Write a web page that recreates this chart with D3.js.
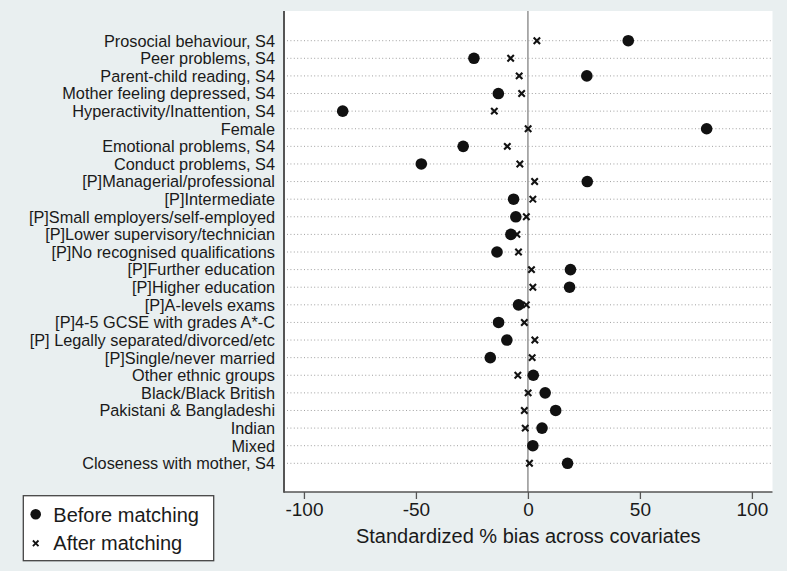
<!DOCTYPE html>
<html>
<head>
<meta charset="utf-8">
<script src="https://cdn.jsdelivr.net/npm/d3@7"></script>
<style>
  html, body { margin: 0; padding: 0; background: #e9eff0; }
  svg { display: block; }
  text { font-family: "Liberation Sans", Arial, sans-serif; fill: #1a1a1a; }
</style>
</head>
<body>
<svg id="chart" width="787" height="571"></svg>
<script>
const categories = [
  "Prosocial behaviour, S4",
  "Peer problems, S4",
  "Parent-child reading, S4",
  "Mother feeling depressed, S4",
  "Hyperactivity/Inattention, S4",
  "Female",
  "Emotional problems, S4",
  "Conduct problems, S4",
  "[P]Managerial/professional",
  "[P]Intermediate",
  "[P]Small employers/self-employed",
  "[P]Lower supervisory/technician",
  "[P]No recognised qualifications",
  "[P]Further education",
  "[P]Higher education",
  "[P]A-levels exams",
  "[P]4-5 GCSE with grades A*-C",
  "[P] Legally separated/divorced/etc",
  "[P]Single/never married",
  "Other ethnic groups",
  "Black/Black British",
  "Pakistani & Bangladeshi",
  "Indian",
  "Mixed",
  "Closeness with mother, S4"
];
const beforeMatching = [44.8, -24.1, 26.3, -13.2, -82.7, 79.8, -28.9, -47.6, 26.5, -6.4,
  -5.4, -7.6, -13.8, 19.0, 18.6, -4.2, -13.1, -9.4, -16.8, 2.4,
  7.7, 12.4, 6.3, 2.2, 17.7];
const afterMatching = [4.0, -7.7, -3.9, -2.8, -15.0, 0.1, -9.2, -3.6, 3.0, 2.2,
  -0.7, -4.9, -4.2, 1.6, 2.2, -0.7, -1.6, 3.1, 1.9, -4.5,
  0.1, -1.6, -1.2, 1.8, 0.7];
const xTicks = [-100, -50, 0, 50, 100];
const xTitle = "Standardized % bias across covariates";
const legendLabels = ["Before matching", "After matching"];

const svg = d3.select("#chart");
const W = 787, H = 571;
svg.append("rect").attr("width", W).attr("height", H).attr("fill", "#e9eff0");

const plot = { left: 284, right: 772.5, top: 11, bottom: 492 };

const x = d3.scaleLinear().domain([-108.9, 109.2]).range([plot.left, plot.right]);
const y = d3.scalePoint().domain(categories).range([40.7, 463.3]);

// plot area
svg.append("rect")
  .attr("x", plot.left).attr("y", plot.top)
  .attr("width", plot.right - plot.left).attr("height", plot.bottom - plot.top)
  .attr("fill", "#ffffff");

// dotted gridlines
svg.append("g").selectAll("line").data(categories).join("line")
  .attr("x1", plot.left + 3).attr("x2", plot.right)
  .attr("y1", d => y(d)).attr("y2", d => y(d))
  .attr("stroke", "#a0a0a0").attr("stroke-width", 1)
  .attr("stroke-dasharray", "1,2.4");

// zero line
svg.append("line")
  .attr("x1", x(0)).attr("x2", x(0))
  .attr("y1", plot.top).attr("y2", plot.bottom)
  .attr("stroke", "#9a9a9a").attr("stroke-width", 1.6);

// y labels
svg.append("g").selectAll("text").data(categories).join("text")
  .attr("x", 275).attr("y", d => y(d))
  .attr("dy", "0.36em")
  .attr("text-anchor", "end")
  .attr("font-size", 16.3)
  .text(d => d);

// x axis
const xAxis = d3.axisBottom(x).tickValues(xTicks).tickSize(7).tickPadding(4).tickFormat(d3.format("d"));
const gx = svg.append("g").attr("transform", `translate(0,${plot.bottom})`).call(xAxis);
gx.select(".domain").remove();
gx.selectAll(".tick line").attr("stroke", "#555").attr("stroke-width", 1.3);
gx.selectAll(".tick text")
  .attr("font-size", 19)
  .attr("font-family", "'Liberation Sans', Arial, sans-serif")
  .attr("fill", "#1a1a1a")
  .text(d => d < 0 ? "-" + Math.abs(d) : String(d));

// axis lines
svg.append("line")
  .attr("x1", plot.left).attr("x2", plot.right)
  .attr("y1", plot.bottom).attr("y2", plot.bottom)
  .attr("stroke", "#555").attr("stroke-width", 1.5);
svg.append("line")
  .attr("x1", plot.left).attr("x2", plot.left)
  .attr("y1", plot.top).attr("y2", plot.bottom + 0.75)
  .attr("stroke", "#555").attr("stroke-width", 2);

// x title
svg.append("text")
  .attr("x", (plot.left + plot.right) / 2).attr("y", 543)
  .attr("text-anchor", "middle")
  .attr("font-size", 20)
  .text(xTitle);

// markers: before (dots)
svg.append("g").selectAll("circle").data(categories).join("circle")
  .attr("cx", (d, i) => x(beforeMatching[i]))
  .attr("cy", d => y(d))
  .attr("r", 5.8)
  .attr("fill", "#111");

// markers: after (x)
const xs = 3.2;
const gAfter = svg.append("g");
categories.forEach((c, i) => {
  const cx = x(afterMatching[i]), cy = y(c);
  gAfter.append("path")
    .attr("d", `M${cx - xs},${cy - xs}L${cx + xs},${cy + xs}M${cx - xs},${cy + xs}L${cx + xs},${cy - xs}`)
    .attr("stroke", "#111").attr("stroke-width", 2.1).attr("fill", "none");
});

// legend
const lg = svg.append("g");
lg.append("rect")
  .attr("x", 23.3).attr("y", 495.7).attr("width", 190.4).attr("height", 65)
  .attr("fill", "#ffffff").attr("stroke", "#444").attr("stroke-width", 1.3);
lg.append("circle").attr("cx", 35.7).attr("cy", 514.3).attr("r", 5.3).attr("fill", "#111");
{
  const cx = 35.7, cy = 543.3, s = 2.8;
  lg.append("path")
    .attr("d", `M${cx - s},${cy - s}L${cx + s},${cy + s}M${cx - s},${cy + s}L${cx + s},${cy - s}`)
    .attr("stroke", "#111").attr("stroke-width", 1.8).attr("fill", "none");
}
lg.append("text").attr("x", 53.3).attr("y", 521.5).attr("font-size", 20).text(legendLabels[0]);
lg.append("text").attr("x", 53.3).attr("y", 550.3).attr("font-size", 20).text(legendLabels[1]);
</script>
</body>
</html>
